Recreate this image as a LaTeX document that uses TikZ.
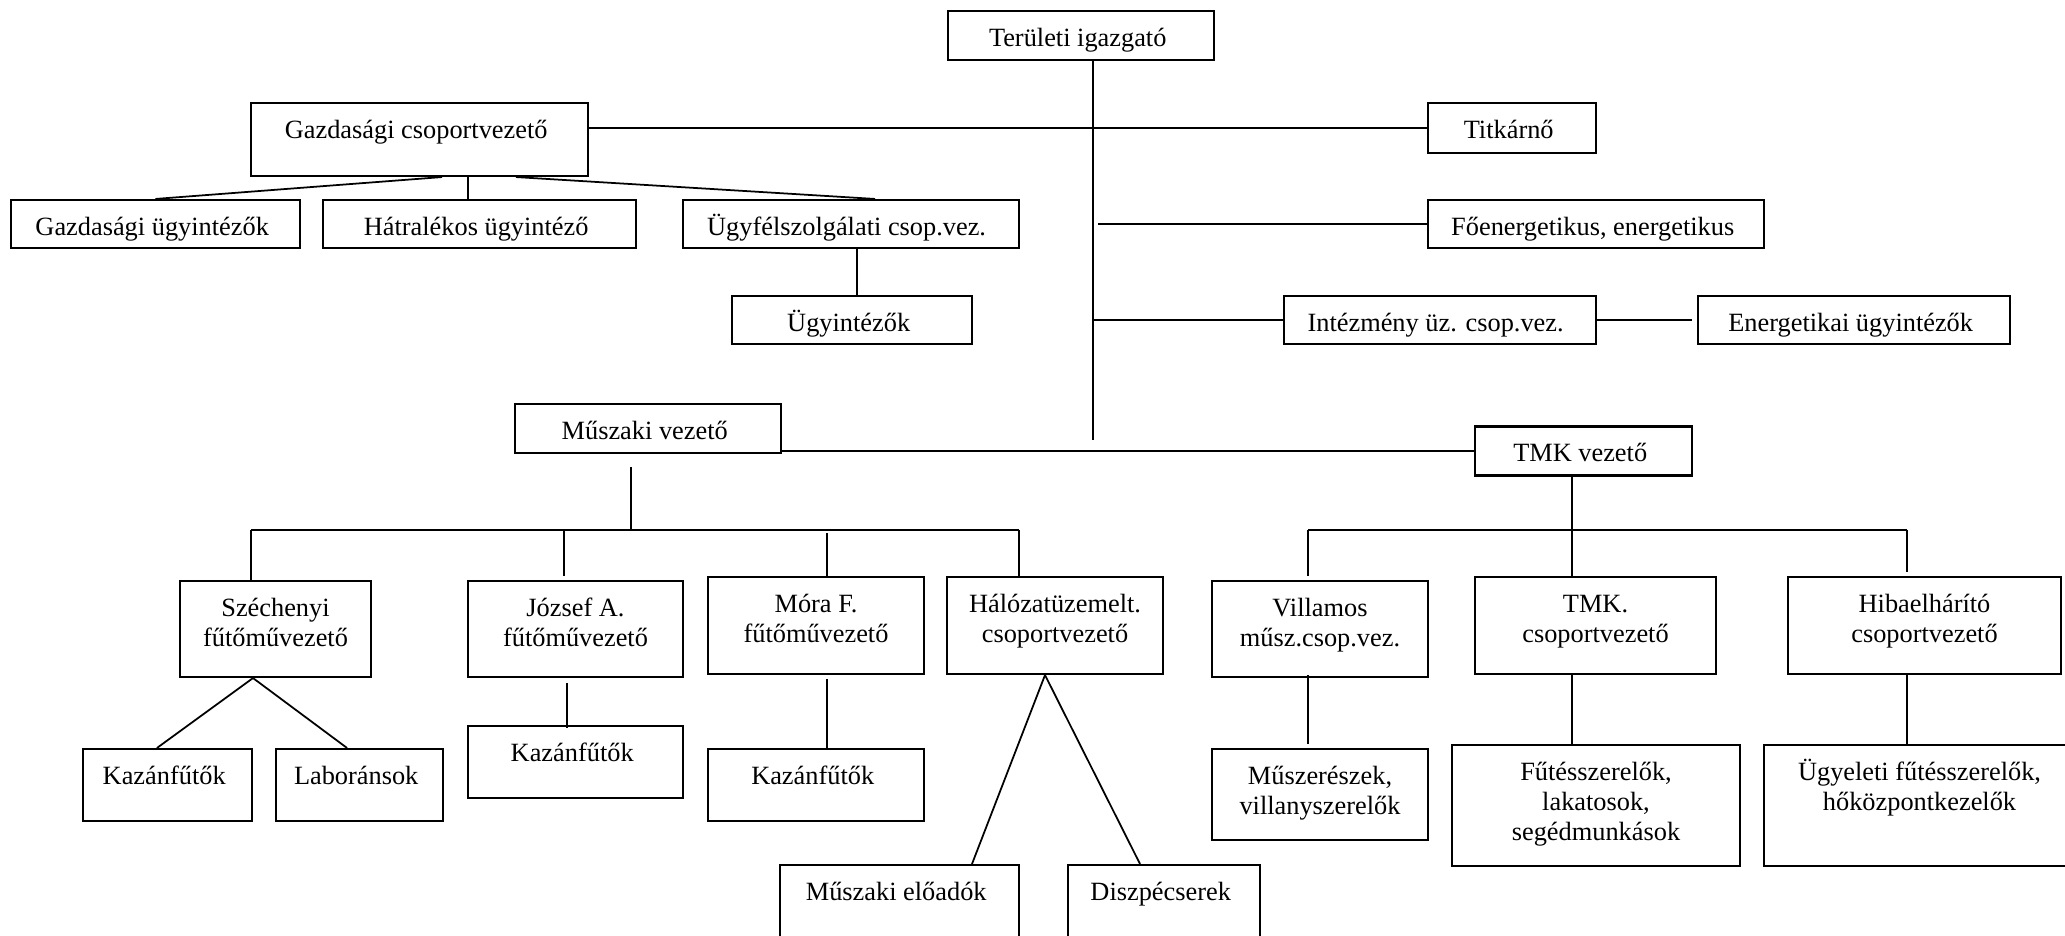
\documentclass[tikz,border=0pt]{standalone}
\usepackage{fontspec}
\setmainfont{Liberation Serif}
\usetikzlibrary{calc}

\tikzset{
  box/.style={draw, line width=1.2pt, inner sep=0pt, align=center,
    font=\fontsize{15}{17}\selectfont},
  boxsize/.style n args={3}{minimum width=#1*0.02cm, minimum height=#2*0.02cm,
    text height=20.2pt+(#3-1)*17pt, text depth=#2*0.02cm-20.2pt-(#3-1)*17pt},
  link/.style={line width=1pt}
}

\begin{document}
\begin{tikzpicture}[x=0.02cm, y=-0.02cm]
  \clip (0,0) rectangle (2065,936);

  \node (ter) [box, boxsize={266}{49}{1}] at (1081,35.5) { Területi igazgató };
  \node (gazd) [box, boxsize={337}{73}{1}] at (419.5,139.5) { Gazdasági csoportvezető };
  \node (titk) [box, boxsize={168}{50}{1}] at (1512,128) { Titkárnő };

  \node (gugy) [box, boxsize={289}{48}{1}] at (155.5,224) { Gazdasági ügyintézők };
  \node (hatr) [box, boxsize={313}{48}{1}] at (479.5,224) { Hátralékos ügyintéző };
  \node (ugyf) [box, boxsize={336}{48}{1}] at (851,224) { Ügyfélszolgálati csop.vez. };
  \node (ugyi) [box, boxsize={240}{48}{1}] at (852,320) { Ügyintézők };

  \node (foen) [box, boxsize={336}{48}{1}] at (1596,224) { Főenergetikus, energetikus };
  \node (intez) [box, boxsize={312}{48}{1}] at (1440,320) { Intézmény üz. csop.vez. };
  \node (energ) [box, boxsize={312}{48}{1}] at (1854,320) { Energetikai ügyintézők };

  \node (musz) [box, boxsize={266}{49}{1}] at (648,428.5) { Műszaki vezető };
  \node (tmk) [box, boxsize={217}{49}{1}] at (1583.5,451) { TMK vezető };

  \node (szech) [box, boxsize={191}{96}{2}] at (275.5,629) { Széchenyi\\fűtőművezető };
  \node (jozsef) [box, boxsize={215}{96}{2}] at (575.5,629) { József A.\\fűtőművezető };
  \node (mora) [box, boxsize={216}{97}{2}] at (816,625.5) { Móra F.\\fűtőművezető };
  \node (halo) [box, boxsize={216}{97}{2}] at (1055,625.5) { Hálózatüzemelt.\\csoportvezető };
  \node (villa) [box, boxsize={216}{96}{2}] at (1320,629) { Villamos\\műsz.csop.vez. };
  \node (tmkcs) [box, boxsize={241}{97}{2}] at (1595.5,625.5) { TMK.\\csoportvezető };
  \node (hiba) [box, boxsize={273}{97}{2}] at (1924.5,625.5) { Hibaelhárító\\csoportvezető };

  \node (kaz1) [box, boxsize={169}{72}{1}] at (167.5,785) { Kazánfűtők };
  \node (labor) [box, boxsize={167}{72}{1}] at (359.5,785) { Laboránsok };
  \node (kaz2) [box, boxsize={215}{72}{1}] at (575.5,762) { Kazánfűtők };
  \node (kaz3) [box, boxsize={216}{72}{1}] at (816,785) { Kazánfűtők };
  \node (muel) [box, boxsize={239}{95}{1}] at (899.5,912.5) { Műszaki előadók };
  \node (disz) [box, boxsize={192}{95}{1}] at (1164,912.5) { Diszpécserek };
  \node (muszer) [box, boxsize={216}{91}{2}] at (1320,794.5) { Műszerészek,\\villanyszerelők };
  \node (futes) [box, boxsize={288}{121}{3}] at (1596,805.5) { Fűtésszerelők,\\lakatosok,\\segédmunkások };
  \node (ugyel) [box, boxsize={311}{121}{2}] at (1919.5,805.5) { Ügyeleti fűtésszerelők,\\hőközpontkezelők };

  \coordinate (trunk) at (1093,440);
  \draw [link] (ter.south -| trunk) -- (trunk);
  \draw [link] (gazd.east |- titk.west) -- (titk.west);
  \draw [link] ($(gazd.south)+(22.5,0)$) -- (gugy.north);
  \draw [link] ($(gazd.south)+(48.5,0)$) coordinate (g2) -- (g2 |- hatr.north);
  \draw [link] ($(gazd.south)+(96.5,0)$) -- ($(ugyf.north)+(24,0)$);
  \draw [link] ($(ugyf.south)+(6,0)$) coordinate (u1) -- (u1 |- ugyi.north);
  \draw [link] ($(foen.west -| trunk)+(5,0)$) -- (foen.west);
  \draw [link] (intez.west -| trunk) -- (intez.west);
  \draw [link] (intez.east) -- ($(energ.west)+(-5,0)$);
  \draw [link] (musz.east |- tmk.west) -- (tmk.west);

  \coordinate (mbusL) at (251,530);
  \coordinate (mbusR) at (1019,530);
  \draw [link] (mbusL) -- (mbusR);
  \draw [link] ($(musz.south)+(-17,13)$) coordinate (m0) -- (m0 |- mbusL);
  \draw [link] (mbusL) -- (mbusL |- szech.north);
  \draw [link] ($(jozsef.north)+(-11.5,-4)$) coordinate (j1) -- (j1 |- mbusL);
  \draw [link] ($(mora.north)+(11,0)$) coordinate (m1) -- ($(m1 |- mbusL)+(0,3)$);
  \draw [link] (mbusR) -- (mbusR |- halo.north);
  \draw [link] ($(szech.south)+(-22.5,0)$) coordinate (s1) -- ($(kaz1.north)+(-10.5,0)$);
  \draw [link] (s1) -- ($(labor.north)+(-12.5,0)$);
  \draw [link] ($(jozsef.south)+(-8.5,5)$) coordinate (j2) -- ($(j2 |- kaz2.north)+(0,3)$);
  \draw [link] ($(mora.south)+(11,4)$) coordinate (m2) -- (m2 |- kaz3.north);
  \draw [link] ($(halo.south)+(-10,0)$) coordinate (h1) -- ($(muel.north)+(72.5,0)$);
  \draw [link] (h1) -- ($(disz.north)+(-24,0)$);

  \coordinate (tbusL) at (1308,530);
  \coordinate (tbusR) at (1907,530);
  \draw [link] (tbusL) -- (tbusR);
  \draw [link] ($(tmk.south)+(-11.5,0)$) coordinate (t1) -- (t1 |- tmkcs.north);
  \draw [link] (tbusL) -- ($(tbusL |- villa.north)+(0,-4)$);
  \draw [link] (tbusR) -- ($(tbusR |- hiba.north)+(0,-4)$);
  \draw [link] ($(villa.south)+(-12,-3)$) coordinate (v1) -- ($(v1 |- muszer.north)+(0,-4)$);
  \draw [link] (t1 |- tmkcs.south) -- (t1 |- futes.north);
  \draw [link] (tbusR |- hiba.south) -- (tbusR |- ugyel.north);
\end{tikzpicture}
\end{document}
